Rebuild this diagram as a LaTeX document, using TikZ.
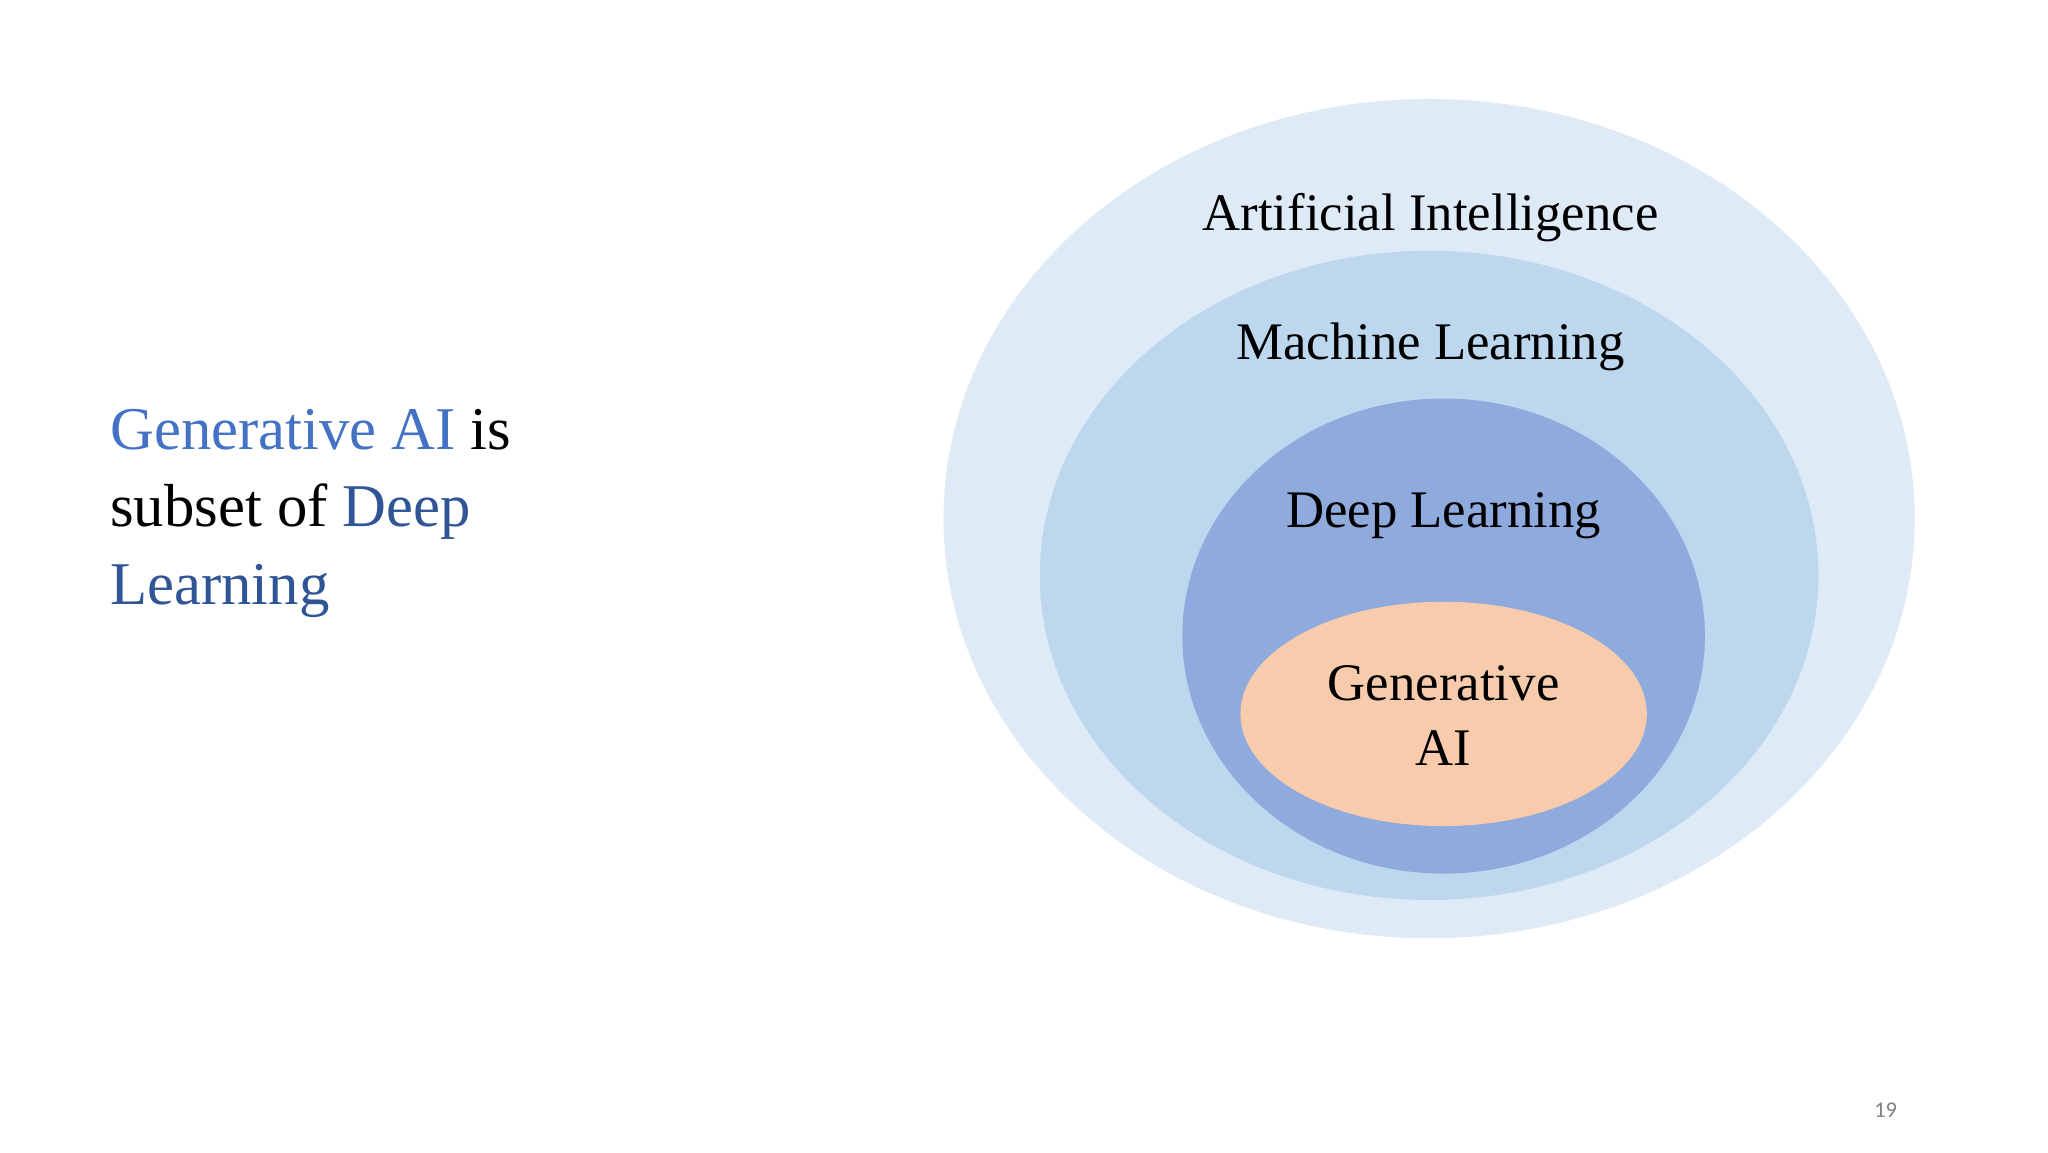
\documentclass[tikz,border=0pt]{standalone}
\usepackage{fontspec}
\setmainfont{Liberation Serif}
\newfontfamily\pgnum{Carlito}
\definecolor{cAI}{HTML}{DEEBF7}
\definecolor{cML}{HTML}{BDD7EE}
\definecolor{cDL}{HTML}{8FAADC}
\definecolor{cGA}{HTML}{F8CBAD}
\definecolor{blueA}{HTML}{4472C4}
\definecolor{blueB}{HTML}{2F5597}
\begin{document}
\begin{tikzpicture}[x=1pt,y=-1pt,
  lbl/.style={font=\fontsize{40}{46}\selectfont, text=black, align=center}]
\useasboundingbox (0,0) rectangle (1552,873);
\fill[white] (0,0) rectangle (1552,873);
\fill[cAI] (1083,393) ellipse [x radius=368, y radius=318];
\fill[cML] (1083,436) ellipse [x radius=295, y radius=246];
\fill[cDL] (1094,482) ellipse [x radius=198, y radius=180];
\fill[cGA] (1094,541) ellipse [x radius=154, y radius=85];
\node[lbl] (ai) at (1084,165) {Artificial Intelligence};
\node[lbl] (ml) at (1084,263) {Machine Learning};
\node[lbl] (dl) at (1094,391) {Deep Learning};
\node[lbl, font=\fontsize{40}{49}\selectfont] (ga) at (1094,542) {Generative\\AI};
\node[anchor=west, align=left, font=\fontsize{46}{59}\selectfont] (txt) at (80,389)
 {\textcolor{blueA}{Generative AI} is\\subset of \textcolor{blueB}{Deep}\\\textcolor{blueB}{Learning}};
\node[font=\pgnum\fontsize{17}{20}\selectfont, text=gray] (pg) at (1429,841) {19};
\end{tikzpicture}
\end{document}
